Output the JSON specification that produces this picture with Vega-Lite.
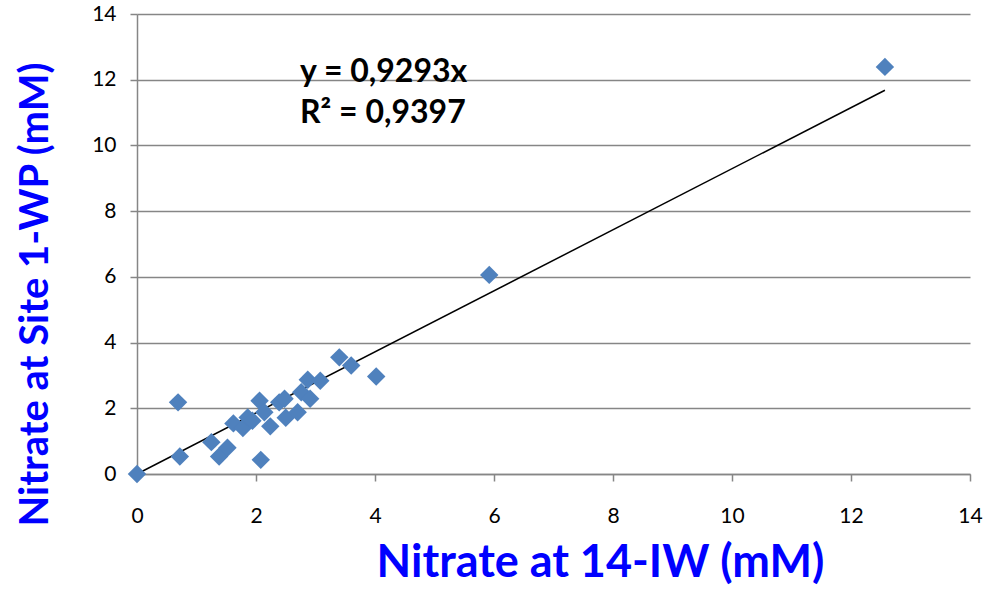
{
  "$schema": "https://vega.github.io/schema/vega-lite/v6.json",
  "width": 833,
  "height": 460,
  "autosize": {"type": "none"},
  "padding": {"left": 137, "top": 14, "right": 17, "bottom": 123},
  "background": "white",
  "config": {"view": {"stroke": null}},
  "datasets": {
    "pts": [
      {"x": 0.0, "y": 0.0},
      {"x": 0.69, "y": 2.18},
      {"x": 0.72, "y": 0.53},
      {"x": 1.25, "y": 0.97},
      {"x": 1.38, "y": 0.53},
      {"x": 1.52, "y": 0.8},
      {"x": 2.08, "y": 0.43},
      {"x": 1.62, "y": 1.54},
      {"x": 1.78, "y": 1.4},
      {"x": 1.86, "y": 1.72},
      {"x": 1.94, "y": 1.62},
      {"x": 2.06, "y": 2.23},
      {"x": 2.14, "y": 1.88},
      {"x": 2.24, "y": 1.45},
      {"x": 2.39, "y": 2.18},
      {"x": 2.48, "y": 2.29},
      {"x": 2.5, "y": 1.71},
      {"x": 2.7, "y": 1.88},
      {"x": 2.76, "y": 2.49},
      {"x": 2.91, "y": 2.29},
      {"x": 2.87, "y": 2.87},
      {"x": 3.08, "y": 2.84},
      {"x": 3.4, "y": 3.55},
      {"x": 3.6, "y": 3.3},
      {"x": 4.02, "y": 2.97},
      {"x": 5.92, "y": 6.06},
      {"x": 12.57, "y": 12.39}
    ],
    "trend": [
      {"x": 0, "y": 0},
      {"x": 12.57, "y": 11.68}
    ],
    "eq": [
      {"x": 2.74, "y": 12.23, "label": "y = 0,9293x"},
      {"x": 2.74, "y": 10.99, "label": "R² = 0,9397"}
    ]
  },
  "layer": [
    {
      "data": {"name": "trend"},
      "mark": {"type": "line", "color": "black", "strokeWidth": 1.5},
      "encoding": {
        "x": {
          "field": "x", "type": "quantitative",
          "scale": {"domain": [0, 14], "nice": false},
          "axis": {
            "values": [0, 2, 4, 6, 8, 10, 12, 14],
            "format": "d",
            "labelFlush": false,
            "grid": false,
            "domainColor": "#868686", "domainWidth": 1.5,
            "tickColor": "#868686", "tickSize": 7, "tickWidth": 1.5,
            "labelFont": "Lato", "labelFontSize": 21, "labelColor": "black",
            "labelPadding": 24,
            "title": "Nitrate at 14-IW (mM)",
            "titleFont": "Lato", "titleFontSize": 45, "titleFontWeight": "bold",
            "titleColor": "#0000FF", "titlePadding": 14, "titleX": 463
          }
        },
        "y": {
          "field": "y", "type": "quantitative",
          "scale": {"domain": [0, 14], "nice": false},
          "axis": {
            "values": [0, 2, 4, 6, 8, 10, 12, 14],
            "format": "d",
            "labelFlush": false,
            "grid": true, "gridColor": "#868686", "gridWidth": 1.5,
            "domainColor": "#868686", "domainWidth": 1.5,
            "tickColor": "#868686", "tickSize": 7, "tickWidth": 1.5,
            "labelFont": "Lato", "labelFontSize": 21, "labelColor": "black",
            "labelPadding": 14,
            "title": "Nitrate at Site 1-WP (mM)",
            "titleFont": "Lato", "titleFontSize": 40, "titleFontWeight": "bold",
            "titleColor": "#0000FF", "titlePadding": 36, "titleY": 280
          }
        }
      }
    },
    {
      "data": {"name": "pts"},
      "mark": {"type": "point", "shape": "diamond", "filled": true, "color": "#4F81BD", "opacity": 1, "size": 340},
      "encoding": {
        "x": {"field": "x", "type": "quantitative"},
        "y": {"field": "y", "type": "quantitative"}
      }
    },
    {
      "data": {"name": "eq"},
      "mark": {"type": "text", "align": "left", "baseline": "middle", "font": "Lato", "fontSize": 32, "fontWeight": "bold", "color": "black"},
      "encoding": {
        "x": {"field": "x", "type": "quantitative"},
        "y": {"field": "y", "type": "quantitative"},
        "text": {"field": "label"}
      }
    }
  ]
}
